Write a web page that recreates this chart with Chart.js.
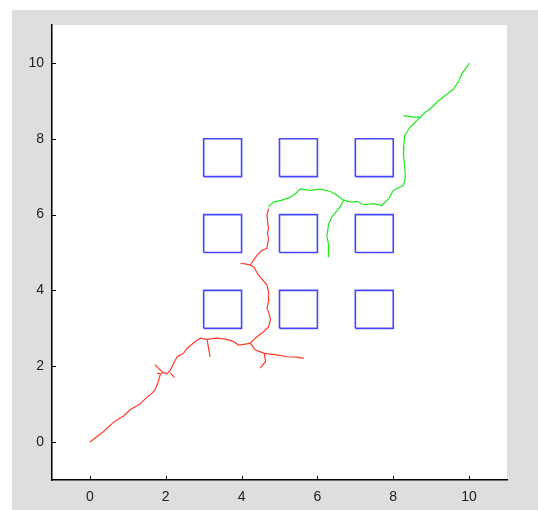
<!DOCTYPE html>
<html>
<head>
<meta charset="utf-8">
<script src="https://cdn.jsdelivr.net/npm/chart.js@4.4.0/dist/chart.umd.min.js"></script>
<style>
  html, body { margin: 0; padding: 0; background: #ffffff; }
  #wrap { position: relative; width: 538px; height: 510px; }
</style>
</head>
<body>
<div id="wrap"><canvas id="grafica" width="538" height="510"></canvas></div>
<script>
// ejes
const xTicks = [0, 2, 4, 6, 8, 10];
const yTicks = [0, 2, 4, 6, 8, 10];
const ejeMin = -1;
const ejeMax = 11;

// obstáculos (esquina inferior izquierda y lado)
const obsX = [3, 5, 7];
const obsY = [3, 5, 7];
const obsLado = 1;

// árbol rojo (desde el origen)
const rojoTronco = [[0,0],[0.36,0.28],[0.62,0.52],[0.75,0.61],[0.89,0.69],[1.06,0.85],[1.33,1.01],[1.50,1.18],[1.64,1.29],[1.72,1.38],[1.81,1.60],[1.85,1.77],[1.92,1.84],[2.03,1.80],[2.12,1.90],[2.21,2.08],[2.30,2.25],[2.47,2.34],[2.56,2.47],[2.78,2.65],[2.91,2.74],[3.09,2.71],[3.35,2.74],[3.61,2.71],[3.79,2.65],[3.92,2.56],[4.14,2.59],[4.23,2.61],[4.36,2.74],[4.58,2.91],[4.71,3.04],[4.76,3.22],[4.74,3.35],[4.67,3.53],[4.72,3.75],[4.71,3.96],[4.67,4.14],[4.45,4.40],[4.32,4.62],[4.23,4.67],[4.41,4.93],[4.54,5.06],[4.67,5.11],[4.71,5.37],[4.68,5.50],[4.71,5.63],[4.67,5.98],[4.71,6.16]];
const rojoRama1 = [[1.90,1.86],[1.80,1.95],[1.72,2.04]];
const rojoRama2 = [[2.12,1.82],[2.23,1.71]];
const rojoRama3 = [[1.85,1.80],[1.77,1.82]];
const rojoRama4 = [[3.09,2.71],[3.13,2.47],[3.17,2.25]];
const rojoRama5 = [[4.23,2.61],[4.36,2.43],[4.50,2.38],[4.60,2.34],[4.93,2.30],[5.20,2.25],[5.46,2.24],[5.64,2.21]];
const rojoRama6 = [[4.60,2.34],[4.63,2.12],[4.49,1.95]];
const rojoRama7 = [[4.23,4.67],[4.10,4.70],[3.97,4.71]];

// árbol verde (desde la meta)
const verdeTronco = [[10,10],[9.99,9.97],[9.81,9.71],[9.73,9.53],[9.59,9.31],[9.42,9.18],[9.20,9.01],[8.98,8.79],[8.85,8.70],[8.71,8.57],[8.63,8.49],[8.45,8.31],[8.30,8.09],[8.28,7.80],[8.27,7.56],[8.30,7.30],[8.32,6.99],[8.27,6.77],[8.01,6.64],[7.88,6.42],[7.70,6.24],[7.48,6.29],[7.22,6.26],[7.05,6.35],[6.91,6.33],[6.69,6.38],[6.52,6.51],[6.34,6.61],[6.08,6.67],[5.81,6.64],[5.55,6.68],[5.42,6.55],[5.29,6.46],[5.07,6.38],[4.84,6.33],[4.71,6.20]];
const verdeRama1 = [[8.71,8.57],[8.54,8.57],[8.27,8.61]];
const verdeRama2 = [[6.69,6.38],[6.60,6.20],[6.38,5.94],[6.30,5.76],[6.25,5.46],[6.30,5.15],[6.28,5.00],[6.30,4.88]];

const rojo = 'rgb(255,60,40)';
const verde = 'rgb(30,235,30)';
const azul = 'rgb(70,70,255)';

function serie(puntos, color, ancho) {
  return {
    data: puntos.map(p => ({ x: p[0], y: p[1] })),
    showLine: true,
    borderColor: color,
    borderWidth: ancho,
    pointRadius: 0,
    fill: false,
    tension: 0
  };
}

const datasets = [];
for (const ox of obsX) {
  for (const oy of obsY) {
    datasets.push(serie([[ox,oy],[ox+obsLado,oy],[ox+obsLado,oy+obsLado],[ox,oy+obsLado],[ox,oy]], azul, 1.6));
  }
}
for (const r of [rojoTronco, rojoRama1, rojoRama2, rojoRama3, rojoRama4, rojoRama5, rojoRama6, rojoRama7]) {
  datasets.push(serie(r, rojo, 1.2));
}
for (const v of [verdeTronco, verdeRama1, verdeRama2]) {
  datasets.push(serie(v, verde, 1.2));
}

// fondo gris de figura y área blanca
const fondo = {
  id: 'fondo',
  beforeDraw(chart) {
    const { ctx, chartArea: a } = chart;
    ctx.save();
    ctx.fillStyle = '#dedede';
    ctx.fillRect(12, 10, chart.width - 12, chart.height - 10);
    ctx.fillStyle = '#ffffff';
    ctx.fillRect(a.left, a.top, a.right - a.left, a.bottom - a.top);
    ctx.restore();
  },
  afterDraw(chart) {
    // marcas hacia dentro
    const { ctx, chartArea: a, scales } = chart;
    ctx.save();
    ctx.strokeStyle = '#000';
    ctx.lineWidth = 1;
    ctx.beginPath();
    for (const v of xTicks) {
      const px = Math.round(scales.x.getPixelForValue(v)) + 0.5;
      ctx.moveTo(px, a.bottom);
      ctx.lineTo(px, a.bottom - 4);
    }
    for (const v of yTicks) {
      const py = Math.round(scales.y.getPixelForValue(v)) + 0.5;
      ctx.moveTo(a.left, py);
      ctx.lineTo(a.left + 4, py);
    }
    ctx.stroke();
    ctx.restore();
  }
};

const fuente = { family: 'Liberation Sans, Arial, sans-serif', size: 14 };

new Chart(document.getElementById('grafica'), {
  type: 'scatter',
  data: { datasets },
  plugins: [fondo],
  options: {
    responsive: false,
    animation: false,
    layout: { padding: { top: 25, right: 31, left: 0, bottom: 0 } },
    plugins: { legend: { display: false }, tooltip: { enabled: false } },
    scales: {
      x: {
        type: 'linear',
        min: ejeMin,
        max: ejeMax,
        afterBuildTicks: s => { s.ticks = xTicks.map(v => ({ value: v })); },
        afterFit: s => { s.height = 30; },
        grid: { display: false, drawTicks: false },
        border: { display: true, color: '#000', width: 1.5 },
        ticks: { font: fuente, color: '#222', padding: 9, maxRotation: 0, autoSkip: false }
      },
      y: {
        type: 'linear',
        min: ejeMin,
        max: ejeMax,
        afterBuildTicks: s => { s.ticks = yTicks.map(v => ({ value: v })); },
        afterFit: s => { s.width = 52; },
        grid: { display: false, drawTicks: false },
        border: { display: true, color: '#000', width: 1.5 },
        ticks: { font: fuente, color: '#222', padding: 8, autoSkip: false }
      }
    }
  }
});
</script>
</body>
</html>
